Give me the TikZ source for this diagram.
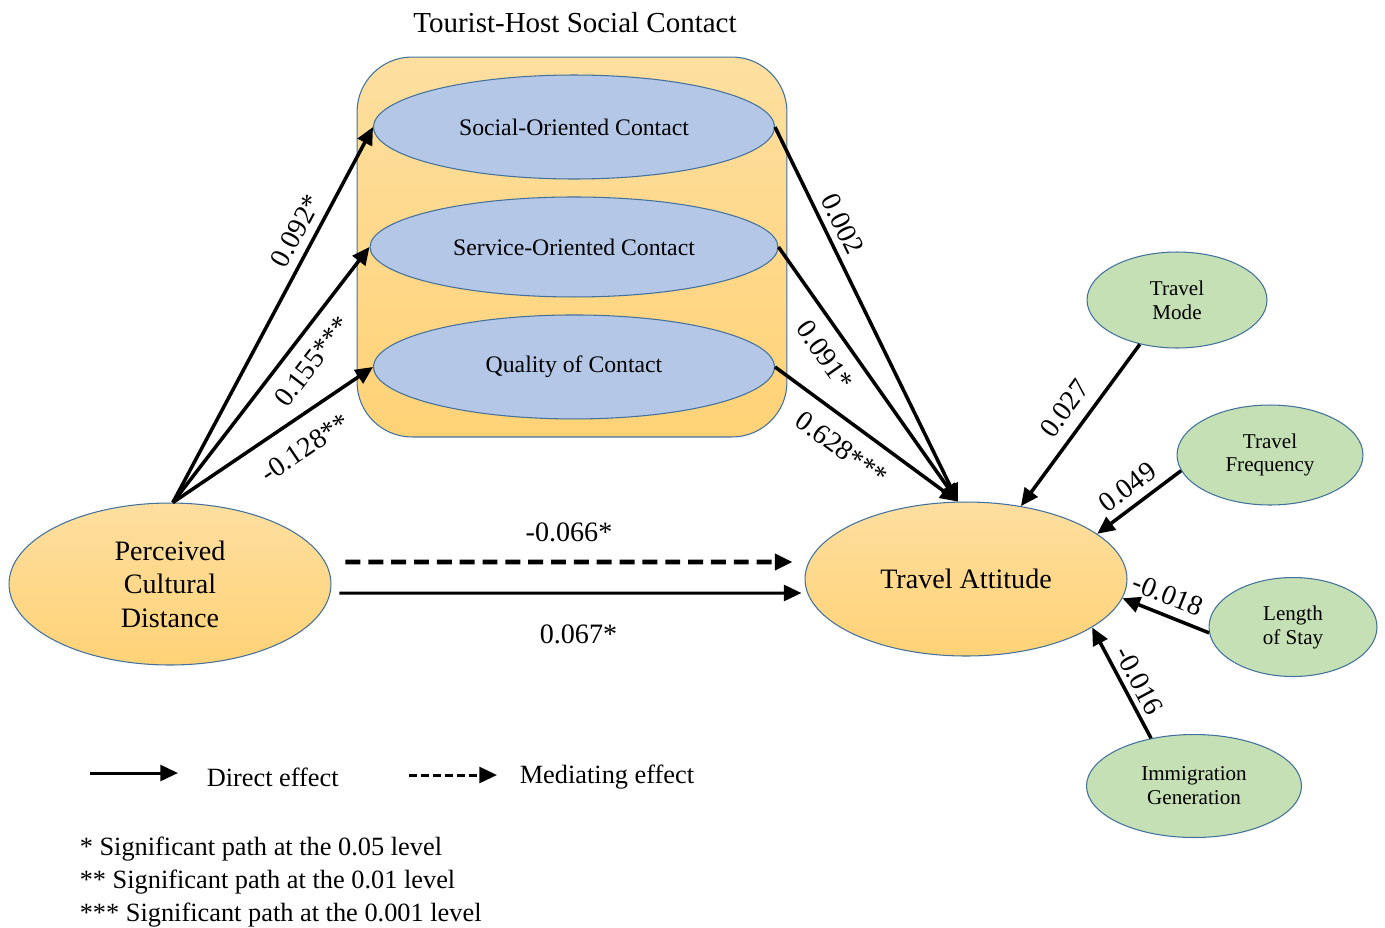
\documentclass[tikz,border=0pt]{standalone}
\usepackage{fontspec}
\setmainfont{Liberation Serif}
\usetikzlibrary{arrows.meta,shapes.geometric}

\definecolor{edgeblue}{RGB}{65,113,156}
\definecolor{contactblue}{RGB}{180,199,231}
\definecolor{ctrlgreen}{RGB}{197,224,180}
\definecolor{orangetop}{RGB}{254,223,160}
\definecolor{orangebot}{RGB}{255,210,118}

\begin{document}
\begin{tikzpicture}[x=0.02cm,y=-0.02cm,
  ->,>={Triangle[length=10pt,width=9pt]},line width=2pt,
  node distance=2.4cm,
  latent/.style={ellipse,draw=edgeblue,line width=0.6pt,top color=orangetop,
    bottom color=orangebot,inner sep=0pt,align=center,font=\fontsize{16}{19}\selectfont},
  group/.style={rectangle,rounded corners=1.1cm,draw=edgeblue,line width=0.6pt,
    top color=orangetop,bottom color=orangebot,minimum width=8.6cm,minimum height=7.6cm},
  contact/.style={ellipse,draw=edgeblue,line width=0.6pt,fill=contactblue,inner sep=0pt,
    minimum width=8.02cm,minimum height=2.08cm,font=\fontsize{13.5}{16}\selectfont},
  control/.style={ellipse,draw=edgeblue,line width=0.6pt,fill=ctrlgreen,inner sep=0pt,
    align=center,font=\fontsize{12}{13.6}\selectfont},
  coef/.style={sloped,inner sep=4pt,font=\fontsize{16}{19}\selectfont},
  midlbl/.style={inner sep=0pt,font=\fontsize{16}{19}\selectfont},
  txt/.style={inner sep=0pt,font=\fontsize{15}{18}\selectfont}]

\useasboundingbox (0,0) rectangle (1385,927);

\node[txt,font=\fontsize{16.5}{19}\selectfont] (title) at (575,23) {Tourist-Host Social Contact};
\node[group] (box) at (572,247) {};
\node[contact] (soc) at (574,127) {Social-Oriented Contact};
\node[contact,minimum width=8.16cm,minimum height=2cm] (serv) [below of=soc] {Service-Oriented Contact};
\node[contact] (qual) [below of=serv] {Quality of Contact};

\node[latent,minimum width=6.44cm,minimum height=3.24cm] (pcd) at (170,584) {Perceived\\Cultural\\Distance};
\node[latent,minimum width=6.44cm,minimum height=3.08cm] (ta) at (966,579) {Travel Attitude};

\node[control,minimum width=3.6cm,minimum height=1.92cm] (mode) at (1177,300) {Travel\\Mode};
\node[control,minimum width=3.72cm,minimum height=2cm] (freq) at (1270,455) {Travel\\Frequency};
\node[control,minimum width=3.36cm,minimum height=1.98cm] (stay) at (1293,627) {Length\\of Stay};
\node[control,minimum width=4.3cm,minimum height=2.06cm] (imm) at (1194,786) {Immigration\\Generation};

% cultural distance -> contact
\path (pcd.88) edge node[coef,above,pos=0.7,inner sep=4.5pt] {0.092*} (soc.west)
  (pcd.88) edge node[coef,below,pos=0.61,inner sep=7.5pt] {0.155***} (serv.west)
  (pcd.88) edge node[coef,below,pos=0.58,inner sep=10pt] {-0.128**} (qual.west);

% contact -> attitude
\path (soc.east) edge node[coef,above,pos=0.28] {0.002} (ta.96)
  (serv.east) edge node[coef,below,pos=0.37,inner sep=7.5pt] {0.091*} (ta.96)
  (qual.east) edge node[coef,below,pos=0.45,inner sep=8.5pt] {0.628***} (ta.96);

% controls
\path (mode.-130) edge node[coef,above,pos=0.48,inner sep=6.5pt] {0.027} (ta.53)
  (freq.190) edge node[coef,above,pos=0.5,inner sep=4.5pt] {0.049} (ta.19)
  (stay.184) edge node[coef,above,pos=0.56,inner sep=5pt] {-0.018} (ta.-7)
  (imm.132) edge node[coef,above,pos=0.45,inner sep=3pt] {-0.016} (ta.-21);

% direct and mediating
\path ([xshift=0.28cm,yshift=0.44cm]pcd.east) edge[line width=2.8pt,dash pattern=on 8.5pt off 4.5pt]
    node[midlbl,midway,above=10pt] {-0.066*} ([xshift=-0.24cm,yshift=0.34cm]ta.west)
  ([xshift=0.16cm,yshift=-0.18cm]pcd.east) edge[line width=1.7pt]
    node[midlbl,midway,below=17pt,xshift=0.16cm] {0.067*} ([xshift=-0.06cm,yshift=-0.28cm]ta.west);

% legend
\coordinate (dirA) at (90,773);
\coordinate (dirB) at (178,773);
\coordinate (medA) at (409,775);
\coordinate (medB) at (497,775);
\draw[line width=1.7pt] (dirA) -- (dirB);
\draw[line width=1.7pt,dash pattern=on 4.5pt off 2.3pt] (medA) -- (medB);
\node[txt,anchor=west] (dirlbl) at (205,777) {Direct effect};
\node[txt,anchor=west] (medlbl) at (518,777) {Mediating effect};

\node[txt,anchor=base west] (sig1) at (78,855) {* Significant path at the 0.05 level};
\node[txt,anchor=base west] (sig2) at (78,888) {** Significant path at the 0.01 level};
\node[txt,anchor=base west] (sig3) at (78,921) {*** Significant path at the 0.001 level};

\end{tikzpicture}
\end{document}
